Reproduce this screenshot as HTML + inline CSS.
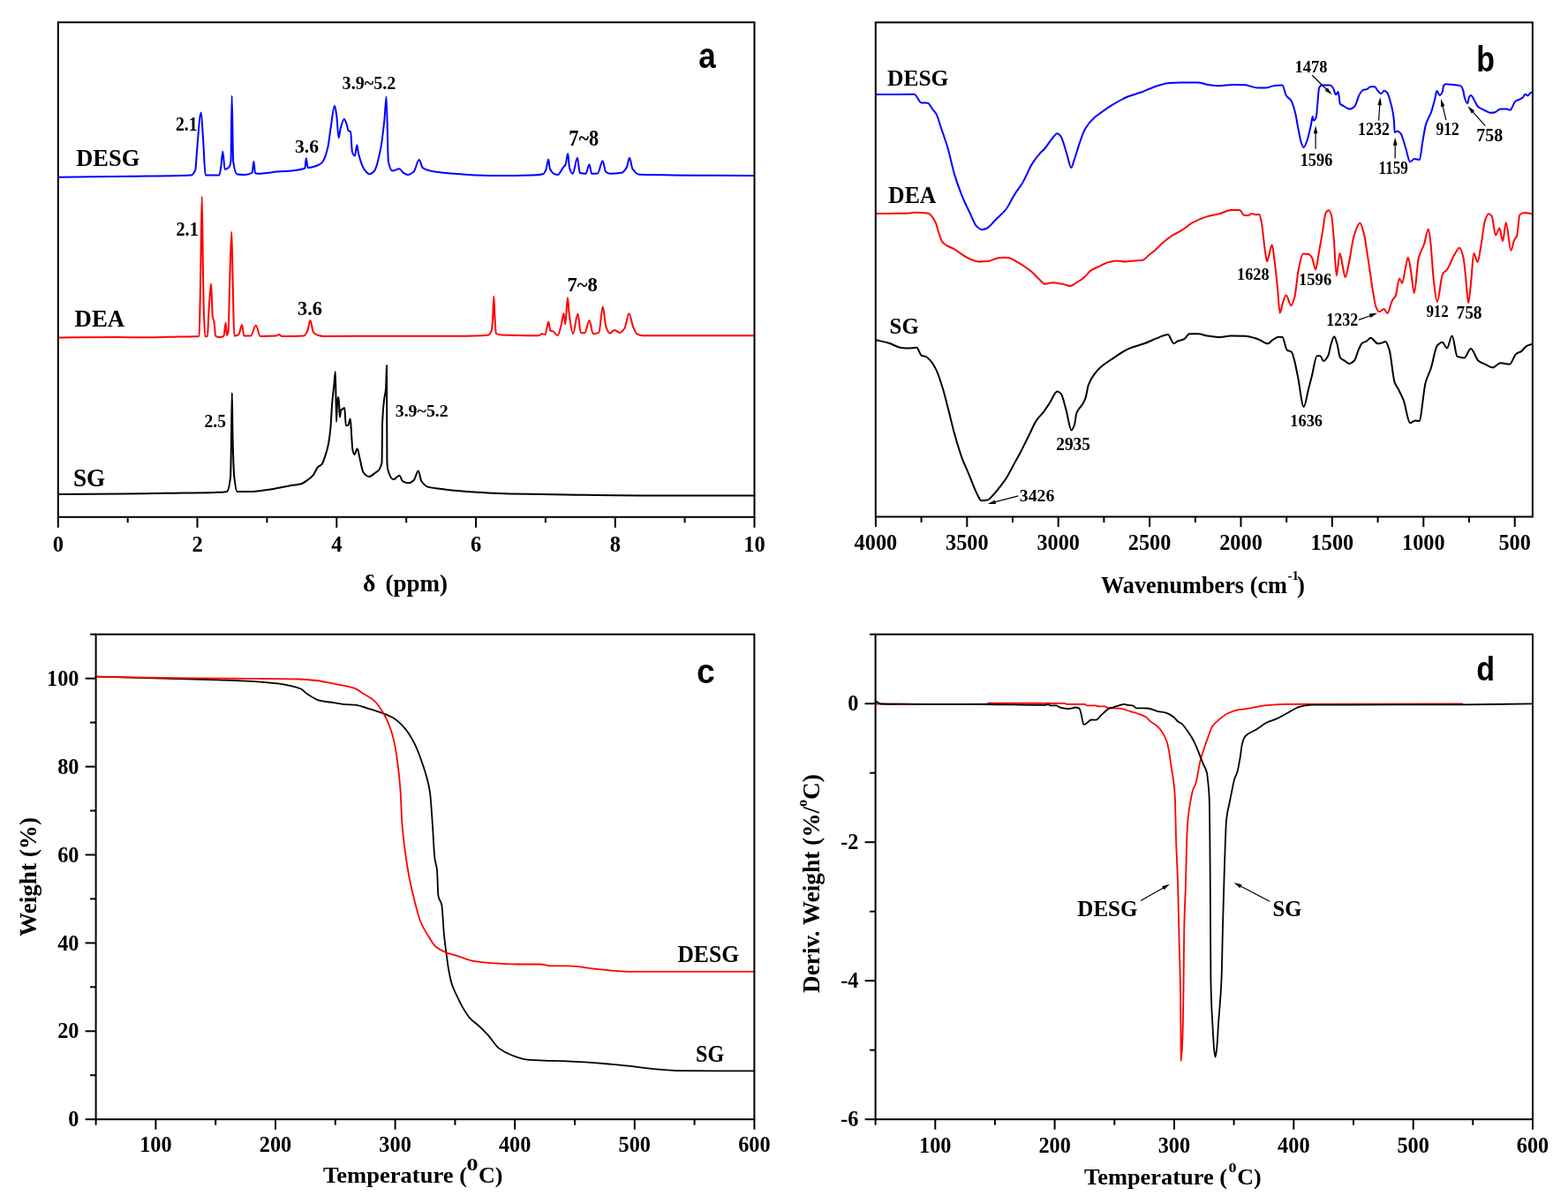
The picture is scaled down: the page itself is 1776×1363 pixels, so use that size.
<!DOCTYPE html>
<html><head><meta charset="utf-8"><style>html,body{margin:0;padding:0;background:#fff;}svg{display:block;}</style></head>
<body>
<svg width="1776" height="1363" viewBox="0 0 1776 1363">
<rect width="100%" height="100%" fill="#fff"/>
<path d="M66.00,560.10 C91.33,559.93 116.67,559.85 142.00,559.60 C157.77,559.45 173.53,559.06 189.30,558.80 C207.33,558.50 225.37,558.43 243.40,557.90 C247.90,557.77 252.40,557.73 256.90,557.10 C258.30,556.90 259.70,552.88 261.10,540.20 C261.40,537.48 261.70,514.49 262.00,498.00 C262.27,483.34 262.53,445.30 262.80,445.30 C263.07,445.30 263.33,487.83 263.60,498.00 C264.17,519.61 264.73,535.13 265.30,540.20 C266.43,550.34 267.57,557.10 268.70,557.10 C273.20,557.10 277.70,557.10 282.20,557.10 C291.77,557.10 301.33,555.11 310.90,553.70 C318.23,552.62 325.57,550.58 332.90,549.50 C335.27,549.15 337.63,549.08 340.00,548.60 C343.07,547.98 346.13,545.46 349.20,543.30 C350.97,542.05 352.73,540.74 354.50,538.70 C356.27,536.66 358.03,531.28 359.80,529.50 C361.33,527.96 362.87,527.93 364.40,526.20 C365.73,524.69 367.07,520.15 368.40,516.20 C369.50,512.94 370.60,509.71 371.70,504.40 C372.57,500.22 373.43,494.44 374.30,485.90 C374.97,479.33 375.63,463.17 376.30,455.50 C376.97,447.83 377.63,443.40 378.30,437.00 C378.83,431.88 379.37,421.10 379.90,421.10 C380.27,421.10 380.63,477.90 381.00,477.90 C381.50,477.90 382.00,450.20 382.50,450.20 C382.87,450.20 383.23,450.20 383.60,450.20 C384.03,450.20 384.47,472.70 384.90,472.70 C385.33,472.70 385.77,465.24 386.20,464.70 C386.87,463.87 387.53,463.83 388.20,463.40 C388.87,462.97 389.53,462.10 390.20,462.10 C390.73,462.10 391.27,481.90 391.80,481.90 C392.60,481.90 393.40,481.90 394.20,481.90 C395.07,481.90 395.93,474.60 396.80,474.60 C397.23,474.60 397.67,486.67 398.10,492.50 C398.53,498.33 398.97,507.59 399.40,509.60 C400.07,512.69 400.73,514.90 401.40,514.90 C402.50,514.90 403.60,508.30 404.70,508.30 C405.60,508.30 406.50,515.31 407.40,518.90 C408.70,524.08 410.00,532.85 411.30,534.70 C413.50,537.83 415.70,540.00 417.90,540.00 C420.10,540.00 422.30,537.94 424.50,536.10 C427.17,533.88 429.83,534.94 432.50,524.20 C432.70,523.39 432.90,484.45 433.10,479.30 C433.77,462.14 434.43,458.67 435.10,452.80 C435.77,446.93 436.43,447.36 437.10,439.60 C437.40,436.11 437.70,413.90 438.00,413.90 C438.13,413.90 438.27,518.09 438.40,521.50 C438.70,529.17 439.00,530.98 439.30,532.10 C441.43,540.09 443.57,543.30 445.70,543.30 C447.90,543.30 450.10,538.70 452.30,538.70 C453.60,538.70 454.90,544.60 456.20,545.30 C458.43,546.51 460.67,547.30 462.90,547.30 C464.87,547.30 466.83,545.77 468.80,544.00 C470.47,542.50 472.13,533.40 473.80,533.40 C475.00,533.40 476.20,543.57 477.40,545.30 C480.03,549.09 482.67,551.24 485.30,551.90 C490.20,553.14 495.10,553.26 500.00,553.90 C504.73,554.52 509.47,555.25 514.20,555.70 C525.00,556.72 535.80,557.40 546.60,558.00 C556.73,558.56 566.87,559.15 577.00,559.40 C598.63,559.93 620.27,560.13 641.90,560.40 C674.33,560.81 706.77,561.40 739.20,561.40 C777.63,561.40 816.07,561.40 854.50,561.40" fill="none" stroke="#000" stroke-width="2" stroke-linejoin="round" stroke-linecap="round"/>
<path d="M66.00,382.60 C87.40,382.40 108.80,382.00 130.20,382.00 C143.70,382.00 157.20,382.30 170.70,382.30 C180.83,382.30 190.97,381.73 201.10,381.50 C209.27,381.31 217.43,381.48 225.60,381.00 C225.90,380.98 226.20,361.82 226.50,348.50 C226.77,336.66 227.03,318.13 227.30,302.90 C227.77,276.24 228.23,222.70 228.70,222.70 C229.10,222.70 229.50,278.42 229.90,302.90 C230.17,319.22 230.43,340.29 230.70,348.50 C231.27,365.94 231.83,381.50 232.40,381.50 C233.23,381.50 234.07,381.21 234.90,380.60 C235.57,380.11 236.23,354.05 236.90,345.10 C237.63,335.25 238.37,321.50 239.10,321.50 C239.67,321.50 240.23,355.16 240.80,358.60 C241.37,362.04 241.93,361.69 242.50,364.60 C243.07,367.51 243.63,380.18 244.20,380.60 C245.60,381.64 247.00,382.00 248.40,382.00 C250.10,382.00 251.80,381.62 253.50,380.60 C254.23,380.16 254.97,365.40 255.70,365.40 C256.10,365.40 256.50,379.80 256.90,379.80 C257.47,379.80 258.03,378.18 258.60,375.50 C259.17,372.82 259.73,331.89 260.30,314.70 C260.97,294.47 261.63,262.40 262.30,262.40 C262.73,262.40 263.17,297.58 263.60,314.70 C264.17,337.09 264.73,380.60 265.30,380.60 C267.00,380.60 268.70,379.96 270.40,378.90 C271.63,378.13 272.87,367.90 274.10,367.90 C274.83,367.90 275.57,380.60 276.30,380.60 C278.83,380.60 281.37,380.60 283.90,380.60 C285.87,380.60 287.83,368.80 289.80,368.80 C291.50,368.80 293.20,381.00 294.90,381.00 C300.80,381.00 306.70,380.92 312.60,380.60 C313.73,380.54 314.87,378.90 316.00,378.90 C317.13,378.90 318.27,381.00 319.40,381.00 C327.57,381.00 335.73,380.94 343.90,380.60 C345.30,380.54 346.70,378.11 348.10,375.50 C349.23,373.39 350.37,362.90 351.50,362.90 C352.63,362.90 353.77,375.02 354.90,376.40 C356.57,378.43 358.23,379.28 359.90,379.80 C361.93,380.43 363.97,381.00 366.00,381.00 C389.90,381.00 413.80,380.70 437.70,380.70 C464.73,380.70 491.77,380.70 518.80,380.70 C530.07,380.70 541.33,380.57 552.60,379.70 C554.00,379.59 555.40,377.91 556.80,374.30 C557.20,373.27 557.60,369.03 558.00,364.20 C558.43,358.97 558.87,335.80 559.30,335.80 C559.77,335.80 560.23,357.40 560.70,364.20 C561.10,370.03 561.50,377.76 561.90,378.00 C563.87,379.16 565.83,379.31 567.80,379.40 C581.93,380.03 596.07,380.20 610.20,380.20 C611.43,380.20 612.67,378.30 613.90,378.30 C615.13,378.30 616.37,379.00 617.60,379.00 C618.80,379.00 620.00,364.40 621.20,364.40 C621.93,364.40 622.67,374.36 623.40,374.70 C624.40,375.17 625.40,375.04 626.40,375.40 C628.10,376.00 629.80,380.20 631.50,380.20 C632.97,380.20 634.43,372.84 635.90,367.30 C636.73,364.15 637.57,354.90 638.40,354.90 C639.03,354.90 639.67,367.30 640.30,367.30 C641.17,367.30 642.03,337.30 642.90,337.30 C643.50,337.30 644.10,351.24 644.70,355.60 C646.13,366.01 647.57,378.30 649.00,378.30 C650.83,378.30 652.67,355.60 654.50,355.60 C655.60,355.60 656.70,376.69 657.80,376.90 C659.27,377.18 660.73,377.30 662.20,377.30 C664.00,377.30 665.80,363.00 667.60,363.00 C668.97,363.00 670.33,378.30 671.70,378.30 C673.90,378.30 676.10,377.86 678.30,376.90 C679.77,376.26 681.23,347.60 682.70,347.60 C683.93,347.60 685.17,367.02 686.40,370.30 C687.87,374.20 689.33,377.60 690.80,377.60 C692.50,377.60 694.20,373.90 695.90,373.90 C697.87,373.90 699.83,376.90 701.80,376.90 C703.73,376.90 705.67,374.50 707.60,371.70 C709.20,369.38 710.80,355.30 712.40,355.30 C713.97,355.30 715.53,366.68 717.10,370.30 C718.57,373.69 720.03,377.47 721.50,378.30 C723.47,379.41 725.43,380.20 727.40,380.20 C769.77,380.20 812.13,380.20 854.50,380.20" fill="none" stroke="#ff0000" stroke-width="2" stroke-linejoin="round" stroke-linecap="round"/>
<path d="M66.00,200.70 C93.77,200.40 121.53,200.18 149.30,199.80 C171.47,199.50 193.63,199.68 215.80,198.60 C217.67,198.51 219.53,196.94 221.40,192.30 C221.87,191.14 222.33,179.56 222.80,174.30 C224.43,155.90 226.07,127.50 227.70,127.50 C228.47,127.50 229.23,145.68 230.00,156.30 C230.90,168.76 231.80,198.40 232.70,198.40 C237.93,198.40 243.17,198.40 248.40,198.40 C249.00,198.40 249.60,193.63 250.20,190.00 C250.90,185.77 251.60,171.60 252.30,171.60 C253.10,171.60 253.90,191.90 254.70,191.90 C256.37,191.90 258.03,190.89 259.70,189.00 C260.30,188.32 260.90,186.82 261.50,182.20 C261.87,179.37 262.23,108.60 262.60,108.60 C263.13,108.60 263.67,179.64 264.20,183.30 C265.70,193.59 267.20,197.32 268.70,197.50 C271.70,197.87 274.70,198.00 277.70,198.00 C280.33,198.00 282.97,197.53 285.60,195.70 C286.20,195.28 286.80,182.90 287.40,182.90 C287.93,182.90 288.47,195.17 289.00,195.70 C289.73,196.42 290.47,196.80 291.20,196.80 C298.70,196.80 306.20,195.40 313.70,194.60 C324.23,193.47 334.77,194.33 345.30,190.80 C345.80,190.63 346.30,179.30 346.80,179.30 C347.40,179.30 348.00,190.10 348.60,190.10 C352.00,190.10 355.40,188.99 358.80,187.80 C361.03,187.02 363.27,185.75 365.50,183.30 C367.40,181.21 369.30,175.27 371.20,167.60 C372.33,163.03 373.47,152.00 374.60,145.00 C376.07,135.95 377.53,119.80 379.00,119.80 C379.77,119.80 380.53,126.20 381.30,131.50 C382.07,136.80 382.83,156.30 383.60,156.30 C384.33,156.30 385.07,147.53 385.80,145.00 C387.17,140.28 388.53,134.90 389.90,134.90 C390.80,134.90 391.70,138.11 392.60,140.50 C393.33,142.45 394.07,147.99 394.80,148.40 C395.57,148.83 396.33,148.63 397.10,149.10 C397.70,149.47 398.30,170.29 398.90,172.00 C399.93,174.95 400.97,176.60 402.00,176.60 C402.77,176.60 403.53,164.20 404.30,164.20 C404.90,164.20 405.50,171.96 406.10,174.30 C408.33,183.00 410.57,189.39 412.80,192.30 C414.70,194.78 416.60,197.30 418.50,197.30 C420.37,197.30 422.23,195.58 424.10,193.50 C426.37,190.98 428.63,180.87 430.90,169.80 C432.40,162.48 433.90,150.26 435.40,136.00 C436.13,129.03 436.87,109.50 437.60,109.50 C438.37,109.50 439.13,179.72 439.90,183.30 C441.40,190.31 442.90,193.50 444.40,193.50 C447.03,193.50 449.67,191.20 452.30,191.20 C453.80,191.20 455.30,194.76 456.80,195.70 C458.50,196.77 460.20,198.00 461.90,198.00 C464.13,198.00 466.37,196.46 468.60,194.60 C470.63,192.90 472.67,181.10 474.70,181.10 C476.07,181.10 477.43,189.19 478.80,190.10 C483.30,193.10 487.80,193.90 492.30,194.60 C502.07,196.12 511.83,196.70 521.60,197.30 C535.10,198.12 548.60,199.10 562.10,199.10 C575.60,199.10 589.10,198.95 602.60,198.60 C606.73,198.49 610.87,198.27 615.00,197.30 C616.13,197.03 617.27,194.84 618.40,192.30 C619.30,190.29 620.20,180.60 621.10,180.60 C621.70,180.60 622.30,189.84 622.90,191.20 C624.40,194.60 625.90,196.14 627.40,196.80 C628.90,197.46 630.40,198.00 631.90,198.00 C633.80,198.00 635.70,192.49 637.60,190.10 C638.57,188.88 639.53,188.53 640.50,186.70 C641.40,185.00 642.30,173.90 643.20,173.90 C643.80,173.90 644.40,188.18 645.00,190.10 C646.27,194.16 647.53,196.80 648.80,196.80 C650.53,196.80 652.27,178.80 654.00,178.80 C654.90,178.80 655.80,195.37 656.70,195.70 C658.97,196.53 661.23,196.80 663.50,196.80 C664.83,196.80 666.17,186.30 667.50,186.30 C668.40,186.30 669.30,196.80 670.20,196.80 C672.47,196.80 674.73,196.67 677.00,196.40 C678.87,196.18 680.73,182.20 682.60,182.20 C683.73,182.20 684.87,193.59 686.00,194.60 C687.50,195.94 689.00,196.80 690.50,196.80 C695.00,196.80 699.50,196.47 704.00,195.70 C705.87,195.38 707.73,193.10 709.60,190.10 C710.73,188.28 711.87,178.80 713.00,178.80 C714.13,178.80 715.27,189.52 716.40,191.20 C719.03,195.11 721.67,197.73 724.30,197.80 C767.53,198.91 810.77,198.60 854.00,199.00" fill="none" stroke="#0000ff" stroke-width="2" stroke-linejoin="round" stroke-linecap="round"/>
<path d="M992.50,385.30 C997.30,386.43 1002.10,387.27 1006.90,388.70 C1011.10,389.95 1015.30,393.07 1019.50,393.70 C1022.60,394.17 1025.70,394.60 1028.80,394.60 C1031.90,394.60 1035.00,393.70 1038.10,393.70 C1040.07,393.70 1042.03,402.29 1044.00,403.00 C1045.40,403.51 1046.80,403.44 1048.20,403.90 C1050.43,404.64 1052.67,407.18 1054.90,409.80 C1056.87,412.10 1058.83,415.72 1060.80,419.90 C1063.07,424.72 1065.33,431.93 1067.60,439.30 C1069.83,446.56 1072.07,455.96 1074.30,464.60 C1076.57,473.37 1078.83,483.52 1081.10,491.60 C1083.90,501.58 1086.70,510.95 1089.50,518.60 C1092.33,526.34 1095.17,532.01 1098.00,538.80 C1100.80,545.51 1103.60,553.82 1106.40,559.10 C1108.10,562.30 1109.80,567.20 1111.50,567.20 C1113.73,567.20 1115.97,566.96 1118.20,566.60 C1120.47,566.23 1122.73,562.97 1125.00,560.70 C1127.80,557.89 1130.60,554.22 1133.40,550.60 C1135.63,547.71 1137.87,544.84 1140.10,541.30 C1142.37,537.70 1144.63,532.85 1146.90,528.70 C1149.70,523.57 1152.50,518.81 1155.30,513.50 C1158.67,507.11 1162.03,500.01 1165.40,493.30 C1168.23,487.65 1171.07,480.64 1173.90,476.40 C1176.70,472.21 1179.50,470.03 1182.30,466.30 C1184.57,463.28 1186.83,459.60 1189.10,456.20 C1191.90,452.01 1194.70,443.50 1197.50,443.50 C1198.90,443.50 1200.30,444.65 1201.70,446.00 C1203.67,447.90 1205.63,457.77 1207.60,464.60 C1209.57,471.43 1211.53,487.40 1213.50,487.40 C1214.63,487.40 1215.77,484.56 1216.90,481.50 C1217.73,479.25 1218.57,470.14 1219.40,468.00 C1221.67,462.17 1223.93,461.78 1226.20,457.80 C1227.30,455.87 1228.40,454.17 1229.50,451.10 C1230.63,447.94 1231.77,438.93 1232.90,435.90 C1235.27,429.57 1237.63,426.55 1240.00,423.30 C1242.03,420.51 1244.07,418.24 1246.10,416.40 C1250.50,412.42 1254.90,409.85 1259.30,406.90 C1265.63,402.66 1271.97,397.82 1278.30,395.10 C1284.17,392.58 1290.03,391.49 1295.90,389.30 C1300.77,387.49 1305.63,384.90 1310.50,383.10 C1314.67,381.56 1318.83,379.00 1323.00,379.00 C1324.20,379.00 1325.40,382.94 1326.60,384.90 C1327.50,386.37 1328.40,389.30 1329.30,389.30 C1330.87,389.30 1332.43,387.05 1334.00,386.40 C1336.43,385.39 1338.87,385.36 1341.30,384.20 C1343.23,383.28 1345.17,378.30 1347.10,378.30 C1350.53,378.30 1353.97,378.30 1357.40,378.30 C1360.80,378.30 1364.20,380.02 1367.60,380.50 C1372.50,381.19 1377.40,382.00 1382.30,382.00 C1386.20,382.00 1390.10,380.50 1394.00,380.50 C1399.37,380.50 1404.73,380.61 1410.10,380.80 C1414.97,380.97 1419.83,382.71 1424.70,384.20 C1428.60,385.40 1432.50,389.30 1436.40,389.30 C1437.87,389.30 1439.33,386.57 1440.80,385.60 C1443.27,383.97 1445.73,381.70 1448.20,381.70 C1449.63,381.70 1451.07,381.81 1452.50,382.00 C1454.23,382.23 1455.97,395.31 1457.70,396.60 C1459.40,397.87 1461.10,397.44 1462.80,398.80 C1463.77,399.57 1464.73,403.59 1465.70,406.90 C1467.17,411.93 1468.63,420.19 1470.10,427.30 C1472.30,437.96 1474.50,461.00 1476.70,461.00 C1478.40,461.00 1480.10,448.51 1481.80,442.00 C1483.17,436.77 1484.53,431.26 1485.90,425.90 C1487.83,418.32 1489.77,403.20 1491.70,403.20 C1492.93,403.20 1494.17,403.20 1495.40,403.20 C1496.60,403.20 1497.80,409.00 1499.00,409.00 C1500.73,409.00 1502.47,406.30 1504.20,403.20 C1505.40,401.05 1506.60,392.83 1507.80,389.30 C1508.93,385.97 1510.07,381.20 1511.20,381.20 C1512.27,381.20 1513.33,385.91 1514.40,389.30 C1515.63,393.22 1516.87,403.96 1518.10,405.40 C1519.57,407.12 1521.03,407.35 1522.50,408.30 C1524.43,409.55 1526.37,412.00 1528.30,412.00 C1530.27,412.00 1532.23,410.36 1534.20,408.30 C1535.67,406.77 1537.13,399.77 1538.60,396.60 C1540.07,393.43 1541.53,389.64 1543.00,388.60 C1544.70,387.40 1546.40,387.38 1548.10,386.40 C1549.57,385.56 1551.03,382.70 1552.50,382.70 C1555.17,382.70 1557.83,389.30 1560.50,389.30 C1561.97,389.30 1563.43,388.92 1564.90,388.60 C1566.37,388.28 1567.83,387.10 1569.30,387.10 C1570.77,387.10 1572.23,392.01 1573.70,396.60 C1575.67,402.76 1577.63,427.76 1579.60,433.20 C1581.07,437.26 1582.53,438.41 1584.00,441.30 C1585.93,445.11 1587.87,448.61 1589.80,453.70 C1592.23,460.10 1594.67,479.30 1597.10,479.30 C1599.07,479.30 1601.03,476.40 1603.00,476.40 C1604.47,476.40 1605.93,477.10 1607.40,477.10 C1609.83,477.10 1612.27,441.94 1614.70,433.20 C1616.67,426.14 1618.63,423.72 1620.60,417.80 C1623.03,410.48 1625.47,394.07 1627.90,391.50 C1629.83,389.46 1631.77,387.80 1633.70,387.80 C1635.43,387.80 1637.17,394.40 1638.90,394.40 C1640.83,394.40 1642.77,380.50 1644.70,380.50 C1646.67,380.50 1648.63,403.16 1650.60,403.90 C1653.27,404.90 1655.93,405.40 1658.60,405.40 C1661.03,405.40 1663.47,395.10 1665.90,395.10 C1668.83,395.10 1671.77,406.78 1674.70,409.00 C1677.13,410.84 1679.57,411.58 1682.00,412.70 C1684.93,414.05 1687.87,416.40 1690.80,416.40 C1693.73,416.40 1696.67,411.20 1699.60,411.20 C1703.03,411.20 1706.47,412.70 1709.90,412.70 C1712.33,412.70 1714.77,402.82 1717.20,401.00 C1719.13,399.56 1721.07,399.39 1723.00,398.10 C1724.97,396.79 1726.93,393.27 1728.90,392.20 C1730.87,391.13 1732.83,390.73 1734.80,390.00" fill="none" stroke="#000" stroke-width="2" stroke-linejoin="round" stroke-linecap="round"/>
<path d="M992.90,242.10 C1005.63,241.87 1018.37,241.93 1031.10,241.40 C1032.57,241.34 1034.03,240.70 1035.50,240.70 C1040.87,240.70 1046.23,240.98 1051.60,241.80 C1053.07,242.02 1054.53,244.03 1056.00,245.80 C1057.33,247.41 1058.67,249.77 1060.00,252.90 C1060.97,255.17 1061.93,259.63 1062.90,262.50 C1064.37,266.86 1065.83,272.36 1067.30,274.20 C1068.77,276.04 1070.23,276.86 1071.70,277.80 C1074.63,279.67 1077.57,280.52 1080.50,282.20 C1083.43,283.88 1086.37,286.28 1089.30,288.10 C1092.23,289.92 1095.17,292.00 1098.10,293.20 C1101.50,294.59 1104.90,296.40 1108.30,296.40 C1111.73,296.40 1115.17,296.29 1118.60,296.10 C1121.50,295.94 1124.40,293.85 1127.30,293.20 C1130.23,292.54 1133.17,291.70 1136.10,291.70 C1138.07,291.70 1140.03,291.83 1142.00,292.00 C1144.93,292.26 1147.87,294.57 1150.80,296.10 C1153.73,297.63 1156.67,299.36 1159.60,301.30 C1162.50,303.21 1165.40,305.32 1168.30,307.80 C1171.23,310.31 1174.17,314.03 1177.10,316.60 C1179.30,318.53 1181.50,321.80 1183.70,321.80 C1186.40,321.80 1189.10,320.30 1191.80,320.30 C1195.70,320.30 1199.60,321.13 1203.50,321.80 C1206.43,322.30 1209.37,324.00 1212.30,324.00 C1214.23,324.00 1216.17,322.11 1218.10,321.00 C1221.03,319.31 1223.97,317.53 1226.90,315.20 C1229.83,312.87 1232.77,308.36 1235.70,306.40 C1238.63,304.44 1241.57,303.37 1244.50,302.00 C1248.40,300.18 1252.30,297.84 1256.20,296.90 C1259.13,296.20 1262.07,295.40 1265.00,295.40 C1268.40,295.40 1271.80,296.40 1275.20,296.40 C1278.13,296.40 1281.07,295.65 1284.00,295.40 C1287.43,295.11 1290.87,295.15 1294.30,294.70 C1296.73,294.38 1299.17,290.75 1301.60,288.80 C1304.03,286.85 1306.47,285.15 1308.90,283.00 C1311.33,280.85 1313.77,277.84 1316.20,275.70 C1319.90,272.44 1323.60,269.49 1327.30,267.10 C1331.03,264.69 1334.77,263.21 1338.50,260.90 C1342.63,258.35 1346.77,254.40 1350.90,252.20 C1356.27,249.34 1361.63,246.99 1367.00,245.40 C1371.93,243.94 1376.87,243.33 1381.80,242.00 C1385.93,240.89 1390.07,238.00 1394.20,238.00 C1397.50,238.00 1400.80,238.00 1404.10,238.00 C1405.77,238.00 1407.43,243.55 1409.10,243.80 C1410.73,244.05 1412.37,244.20 1414.00,244.20 C1415.27,244.20 1416.53,242.00 1417.80,242.00 C1419.43,242.00 1421.07,243.30 1422.70,243.30 C1423.93,243.30 1425.17,242.90 1426.40,242.90 C1427.23,242.90 1428.07,248.06 1428.90,252.20 C1430.13,258.33 1431.37,273.75 1432.60,281.90 C1433.43,287.41 1434.27,296.20 1435.10,296.20 C1435.93,296.20 1436.77,290.86 1437.60,288.10 C1438.63,284.68 1439.67,277.60 1440.70,277.60 C1441.73,277.60 1442.77,289.15 1443.80,296.80 C1444.83,304.45 1445.87,315.21 1446.90,325.30 C1447.83,334.42 1448.77,354.40 1449.70,354.40 C1450.83,354.40 1451.97,345.63 1453.10,342.60 C1454.33,339.30 1455.57,334.60 1456.80,334.60 C1458.67,334.60 1460.53,346.30 1462.40,346.30 C1463.63,346.30 1464.87,341.88 1466.10,337.70 C1467.73,332.16 1469.37,311.54 1471.00,304.20 C1472.67,296.71 1474.33,287.50 1476.00,287.50 C1478.07,287.50 1480.13,287.71 1482.20,288.10 C1483.43,288.33 1484.67,289.95 1485.90,291.80 C1487.33,293.95 1488.77,305.50 1490.20,305.50 C1491.23,305.50 1492.27,295.00 1493.30,289.40 C1494.97,280.37 1496.63,270.83 1498.30,260.90 C1499.33,254.75 1500.37,243.39 1501.40,241.70 C1502.63,239.68 1503.87,238.30 1505.10,238.30 C1506.13,238.30 1507.17,241.14 1508.20,244.80 C1509.03,247.75 1509.87,259.96 1510.70,269.50 C1511.73,281.33 1512.77,312.30 1513.80,312.30 C1515.03,312.30 1516.27,286.90 1517.50,286.90 C1518.53,286.90 1519.57,295.97 1520.60,300.50 C1521.63,305.03 1522.67,314.10 1523.70,314.10 C1524.93,314.10 1526.17,305.81 1527.40,300.50 C1529.47,291.61 1531.53,273.39 1533.60,267.10 C1535.87,260.20 1538.13,252.80 1540.40,252.80 C1541.87,252.80 1543.33,259.18 1544.80,264.60 C1546.43,270.63 1548.07,283.91 1549.70,294.30 C1551.37,304.91 1553.03,317.94 1554.70,327.80 C1555.93,335.10 1557.17,344.69 1558.40,347.60 C1559.63,350.51 1560.87,353.20 1562.10,353.20 C1563.97,353.20 1565.83,350.10 1567.70,350.10 C1568.93,350.10 1570.17,355.00 1571.40,355.00 C1573.27,355.00 1575.13,343.47 1577.00,340.20 C1578.23,338.04 1579.47,337.74 1580.70,335.20 C1582.13,332.25 1583.57,315.40 1585.00,315.40 C1586.03,315.40 1587.07,321.00 1588.10,321.00 C1589.33,321.00 1590.57,309.44 1591.80,304.20 C1592.83,299.81 1593.87,291.80 1594.90,291.80 C1595.93,291.80 1596.97,300.95 1598.00,306.70 C1599.27,313.74 1600.53,332.10 1601.80,332.10 C1603.43,332.10 1605.07,299.82 1606.70,293.10 C1607.53,289.67 1608.37,287.90 1609.20,285.70 C1610.43,282.44 1611.67,280.44 1612.90,277.00 C1614.57,272.35 1616.23,259.40 1617.90,259.40 C1618.70,259.40 1619.50,268.03 1620.30,274.50 C1621.53,284.47 1622.77,309.17 1624.00,319.10 C1625.27,329.29 1626.53,342.00 1627.80,342.00 C1629.87,342.00 1631.93,313.77 1634.00,310.40 C1635.63,307.74 1637.27,307.61 1638.90,305.50 C1641.80,301.75 1644.70,292.65 1647.60,288.10 C1649.47,285.17 1651.33,280.70 1653.20,280.70 C1654.63,280.70 1656.07,285.90 1657.50,291.80 C1658.53,296.05 1659.57,309.55 1660.60,319.10 C1661.43,326.80 1662.27,343.30 1663.10,343.30 C1664.13,343.30 1665.17,328.31 1666.20,319.10 C1667.23,309.89 1668.27,286.90 1669.30,286.90 C1670.73,286.90 1672.17,296.80 1673.60,296.80 C1674.83,296.80 1676.07,286.17 1677.30,279.50 C1678.77,271.57 1680.23,255.51 1681.70,251.00 C1683.13,246.59 1684.57,242.30 1686.00,242.30 C1687.23,242.30 1688.47,243.36 1689.70,244.80 C1691.13,246.48 1692.57,266.50 1694.00,266.50 C1695.47,266.50 1696.93,258.40 1698.40,258.40 C1699.63,258.40 1700.87,273.30 1702.10,273.30 C1703.33,273.30 1704.57,252.20 1705.80,252.20 C1707.67,252.20 1709.53,283.80 1711.40,283.80 C1712.63,283.80 1713.87,274.58 1715.10,272.00 C1716.13,269.84 1717.17,269.81 1718.20,267.10 C1719.23,264.39 1720.27,244.42 1721.30,243.50 C1723.17,241.84 1725.03,241.10 1726.90,241.10 C1729.57,241.10 1732.23,241.90 1734.90,242.30" fill="none" stroke="#ff0000" stroke-width="2" stroke-linejoin="round" stroke-linecap="round"/>
<path d="M992.90,107.10 C1007.10,107.00 1021.30,106.80 1035.50,106.80 C1038.17,106.80 1040.83,116.19 1043.50,116.40 C1045.97,116.59 1048.43,116.49 1050.90,116.70 C1052.60,116.84 1054.30,121.08 1056.00,123.30 C1057.47,125.22 1058.93,126.50 1060.40,129.10 C1062.37,132.59 1064.33,140.23 1066.30,146.00 C1068.73,153.14 1071.17,159.66 1073.60,168.00 C1076.07,176.45 1078.53,189.21 1081.00,197.40 C1083.93,207.14 1086.87,215.09 1089.80,222.30 C1092.73,229.51 1095.67,235.28 1098.60,241.40 C1101.03,246.48 1103.47,253.63 1105.90,256.10 C1107.87,258.10 1109.83,260.20 1111.80,260.20 C1113.73,260.20 1115.67,259.45 1117.60,258.70 C1121.03,257.37 1124.47,252.08 1127.90,248.70 C1131.80,244.86 1135.70,242.03 1139.60,237.00 C1142.53,233.22 1145.47,226.34 1148.40,221.60 C1151.83,216.05 1155.27,212.07 1158.70,206.20 C1162.13,200.33 1165.57,191.06 1169.00,185.60 C1171.93,180.94 1174.87,177.22 1177.80,173.90 C1179.77,171.68 1181.73,170.28 1183.70,168.00 C1186.13,165.18 1188.57,160.63 1191.00,157.80 C1193.20,155.24 1195.40,151.20 1197.60,151.20 C1198.83,151.20 1200.07,152.67 1201.30,154.10 C1203.73,156.93 1206.17,168.06 1208.60,175.40 C1210.17,180.13 1211.73,190.00 1213.30,190.00 C1214.43,190.00 1215.57,184.37 1216.70,181.20 C1218.90,175.05 1221.10,166.83 1223.30,160.70 C1225.23,155.32 1227.17,149.29 1229.10,146.00 C1232.73,139.82 1236.37,136.07 1240.00,132.80 C1241.37,131.57 1242.73,130.70 1244.10,129.70 C1248.80,126.25 1253.50,122.67 1258.20,119.80 C1264.77,115.79 1271.33,111.90 1277.90,109.30 C1282.57,107.45 1287.23,106.46 1291.90,104.80 C1297.53,102.79 1303.17,99.81 1308.80,98.00 C1313.50,96.49 1318.20,94.59 1322.90,94.20 C1327.60,93.81 1332.30,93.50 1337.00,93.50 C1343.57,93.50 1350.13,93.50 1356.70,93.50 C1360.47,93.50 1364.23,95.38 1368.00,95.90 C1372.67,96.54 1377.33,97.30 1382.00,97.30 C1386.70,97.30 1391.40,95.90 1396.10,95.90 C1400.80,95.90 1405.50,96.06 1410.20,96.30 C1414.90,96.54 1419.60,99.40 1424.30,99.40 C1427.57,99.40 1430.83,99.40 1434.10,99.40 C1437.40,99.40 1440.70,97.10 1444.00,96.90 C1446.80,96.73 1449.60,96.60 1452.40,96.60 C1453.90,96.60 1455.40,106.16 1456.90,108.40 C1458.77,111.18 1460.63,111.21 1462.50,114.10 C1464.00,116.42 1465.50,121.78 1467.00,127.60 C1468.13,132.00 1469.27,139.99 1470.40,145.60 C1471.53,151.21 1472.67,158.27 1473.80,161.40 C1474.73,163.98 1475.67,167.00 1476.60,167.00 C1477.90,167.00 1479.20,162.57 1480.50,159.10 C1482.00,155.10 1483.50,148.08 1485.00,141.10 C1485.57,138.46 1486.13,132.10 1486.70,132.10 C1487.10,132.10 1487.50,136.60 1487.90,136.60 C1488.83,136.60 1489.77,135.36 1490.70,133.20 C1491.27,131.89 1491.83,121.93 1492.40,116.30 C1492.97,110.67 1493.53,100.37 1494.10,99.40 C1495.20,97.51 1496.30,96.60 1497.40,96.60 C1500.40,96.60 1503.40,96.60 1506.40,96.60 C1507.53,96.60 1508.67,98.02 1509.80,99.40 C1510.93,100.78 1512.07,107.30 1513.20,107.30 C1513.97,107.30 1514.73,103.90 1515.50,103.90 C1515.87,103.90 1516.23,106.40 1516.60,108.40 C1516.97,110.40 1517.33,116.86 1517.70,117.40 C1518.83,119.06 1519.97,119.04 1521.10,119.70 C1523.73,121.23 1526.37,123.60 1529.00,123.60 C1530.87,123.60 1532.73,122.08 1534.60,120.20 C1536.10,118.69 1537.60,111.11 1539.10,108.40 C1540.60,105.69 1542.10,102.82 1543.60,102.20 C1545.10,101.58 1546.60,101.63 1548.10,101.10 C1549.60,100.57 1551.10,98.30 1552.60,98.30 C1554.10,98.30 1555.60,98.30 1557.10,98.30 C1558.23,98.30 1559.37,101.60 1560.50,102.80 C1561.80,104.17 1563.10,106.20 1564.40,106.20 C1565.53,106.20 1566.67,102.80 1567.80,102.80 C1568.93,102.80 1570.07,103.82 1571.20,105.00 C1572.50,106.36 1573.80,111.33 1575.10,116.30 C1576.43,121.39 1577.77,124.57 1579.10,138.80 C1579.27,140.58 1579.43,150.10 1579.60,150.10 C1580.73,150.10 1581.87,148.40 1583.00,148.40 C1584.13,148.40 1585.27,149.82 1586.40,151.20 C1588.27,153.48 1590.13,161.40 1592.00,167.00 C1593.70,172.10 1595.40,183.30 1597.10,183.30 C1598.80,183.30 1600.50,179.90 1602.20,179.90 C1604.07,179.90 1605.93,181.10 1607.80,181.10 C1608.93,181.10 1610.07,167.52 1611.20,161.20 C1612.47,154.14 1613.73,145.21 1615.00,141.00 C1617.03,134.24 1619.07,132.69 1621.10,126.90 C1622.57,122.73 1624.03,117.01 1625.50,111.10 C1626.10,108.68 1626.70,103.10 1627.30,103.10 C1628.47,103.10 1629.63,108.00 1630.80,108.00 C1631.70,108.00 1632.60,106.64 1633.50,104.90 C1634.07,103.81 1634.63,97.70 1635.20,97.00 C1636.10,95.89 1637.00,95.20 1637.90,95.20 C1640.53,95.20 1643.17,95.76 1645.80,96.10 C1648.73,96.48 1651.67,96.45 1654.60,97.40 C1655.47,97.68 1656.33,99.88 1657.20,102.30 C1657.80,103.98 1658.40,109.35 1659.00,111.10 C1660.03,114.11 1661.07,117.20 1662.10,117.20 C1662.83,117.20 1663.57,110.20 1664.30,109.30 C1664.87,108.60 1665.43,108.00 1666.00,108.00 C1667.17,108.00 1668.33,110.99 1669.50,112.80 C1670.97,115.07 1672.43,119.39 1673.90,120.70 C1675.67,122.28 1677.43,122.93 1679.20,123.80 C1682.43,125.39 1685.67,127.80 1688.90,127.80 C1690.37,127.80 1691.83,127.57 1693.30,127.30 C1695.37,126.92 1697.43,123.40 1699.50,123.40 C1701.83,123.40 1704.17,123.40 1706.50,123.40 C1707.83,123.40 1709.17,124.70 1710.50,124.70 C1711.23,124.70 1711.97,122.77 1712.70,121.60 C1713.87,119.74 1715.03,115.95 1716.20,115.00 C1717.97,113.57 1719.73,113.38 1721.50,112.40 C1722.67,111.75 1723.83,111.22 1725.00,110.20 C1725.87,109.44 1726.73,106.70 1727.60,106.70 C1728.50,106.70 1729.40,108.40 1730.30,108.40 C1731.47,108.40 1732.63,105.41 1733.80,104.90 C1734.23,104.71 1734.67,104.63 1735.10,104.50" fill="none" stroke="#0000ff" stroke-width="2" stroke-linejoin="round" stroke-linecap="round"/>
<path d="M108.60,766.70 C154.77,767.93 200.93,768.85 247.10,770.40 C257.80,770.76 268.50,771.14 279.20,771.70 C286.33,772.07 293.47,772.61 300.60,773.20 C306.30,773.67 312.00,774.14 317.70,774.90 C321.97,775.47 326.23,776.37 330.50,777.40 C334.07,778.26 337.63,779.03 341.20,780.70 C343.33,781.70 345.47,784.58 347.60,786.00 C352.60,789.32 357.60,792.75 362.60,793.90 C367.60,795.05 372.60,795.38 377.60,796.10 C382.60,796.82 387.60,797.81 392.60,798.20 C396.13,798.48 399.67,798.48 403.20,798.80 C408.20,799.26 413.20,801.57 418.20,803.10 C423.20,804.63 428.20,806.09 433.20,808.00 C437.47,809.63 441.73,811.22 446.00,813.80 C450.30,816.40 454.60,820.55 458.90,825.60 C462.47,829.79 466.03,835.67 469.60,842.70 C472.43,848.29 475.27,855.97 478.10,864.10 C480.27,870.32 482.43,876.46 484.60,885.50 C485.43,888.98 486.27,892.38 487.10,898.50 C488.00,905.11 488.90,920.33 489.80,932.80 C490.67,944.81 491.53,965.80 492.40,972.40 C493.27,979.00 494.13,978.07 495.00,985.60 C495.47,989.65 495.93,1012.17 496.40,1014.70 C497.70,1021.75 499.00,1019.19 500.30,1025.20 C501.20,1029.36 502.10,1050.57 503.00,1059.50 C503.87,1068.10 504.73,1074.13 505.60,1080.70 C506.47,1087.27 507.33,1094.38 508.20,1099.10 C509.53,1106.36 510.87,1112.31 512.20,1116.30 C513.97,1121.59 515.73,1124.45 517.50,1128.20 C519.70,1132.86 521.90,1137.60 524.10,1141.40 C526.73,1145.94 529.37,1150.36 532.00,1153.30 C535.53,1157.24 539.07,1159.20 542.60,1162.50 C546.10,1165.77 549.60,1169.24 553.10,1173.10 C557.07,1177.47 561.03,1184.58 565.00,1187.60 C569.83,1191.29 574.67,1193.61 579.50,1195.50 C584.80,1197.57 590.10,1199.74 595.40,1200.30 C602.43,1201.04 609.47,1201.36 616.50,1201.60 C623.53,1201.84 630.57,1201.87 637.60,1202.10 C656.17,1202.71 674.73,1204.37 693.30,1205.80 C719.23,1207.80 745.17,1212.92 771.10,1213.10 C798.87,1213.29 826.63,1213.30 854.40,1213.40" fill="none" stroke="#000" stroke-width="1.8" stroke-linejoin="round" stroke-linecap="round"/>
<path d="M108.60,766.70 C139.07,767.20 169.53,767.83 200.00,768.20 C246.37,768.76 292.73,768.53 339.10,769.50 C345.50,769.63 351.90,770.29 358.30,771.00 C364.00,771.63 369.70,773.08 375.40,774.20 C383.97,775.89 392.53,776.75 401.10,779.60 C404.67,780.79 408.23,783.75 411.80,786.00 C416.07,788.70 420.33,790.68 424.60,794.60 C427.47,797.24 430.33,801.64 433.20,806.30 C435.70,810.37 438.20,815.04 440.70,821.30 C442.47,825.72 444.23,830.92 446.00,838.40 C447.43,844.47 448.87,853.39 450.30,864.10 C451.37,872.07 452.43,880.71 453.50,895.00 C454.13,903.48 454.77,924.33 455.40,932.80 C456.30,944.84 457.20,952.03 458.10,959.20 C459.87,973.27 461.63,984.17 463.40,993.50 C465.60,1005.12 467.80,1014.16 470.00,1022.60 C472.20,1031.04 474.40,1039.71 476.60,1045.00 C479.23,1051.33 481.87,1055.25 484.50,1059.50 C487.57,1064.45 490.63,1070.20 493.70,1072.70 C497.67,1075.93 501.63,1077.74 505.60,1079.30 C510.00,1081.03 514.40,1081.91 518.80,1083.30 C524.10,1084.98 529.40,1087.63 534.70,1088.60 C541.73,1089.89 548.77,1090.73 555.80,1091.20 C565.47,1091.85 575.13,1092.50 584.80,1092.50 C593.60,1092.50 602.40,1092.50 611.20,1092.50 C615.60,1092.50 620.00,1094.40 624.40,1094.40 C630.77,1094.40 637.13,1094.30 643.50,1094.30 C654.23,1094.30 664.97,1096.93 675.70,1097.90 C688.93,1099.10 702.17,1100.90 715.40,1100.90 C761.73,1100.90 808.07,1100.90 854.40,1100.90" fill="none" stroke="#ff0000" stroke-width="1.8" stroke-linejoin="round" stroke-linecap="round"/>
<path d="M991.60,797.60 C1014.40,797.70 1037.20,797.90 1060.00,797.90 C1079.73,797.90 1099.47,797.70 1119.20,797.60" fill="none" stroke="#ff0000" stroke-width="1.8" stroke-linejoin="round" stroke-linecap="round"/>
<path d="M1119.20,796.70 C1148.03,796.77 1176.87,796.71 1205.70,796.90 C1206.60,796.91 1207.50,797.90 1208.40,797.90 C1215.13,797.90 1221.87,797.90 1228.60,797.90 C1229.53,797.90 1230.47,799.30 1231.40,799.30 C1234.53,799.30 1237.67,799.30 1240.80,799.30 C1241.93,799.30 1243.07,800.40 1244.20,800.40 C1246.67,800.40 1249.13,800.40 1251.60,800.40 C1252.73,800.40 1253.87,801.89 1255.00,802.00 C1259.27,802.43 1263.53,802.26 1267.80,802.60 C1272.33,802.96 1276.87,805.08 1281.40,806.40 C1284.27,807.23 1287.13,807.97 1290.00,809.00 C1292.70,809.97 1295.40,810.88 1298.10,812.60 C1299.70,813.62 1301.30,816.10 1302.90,817.40 C1305.33,819.38 1307.77,820.22 1310.20,822.30 C1312.07,823.90 1313.93,826.00 1315.80,828.70 C1317.70,831.45 1319.60,834.55 1321.50,840.00 C1322.57,843.06 1323.63,848.36 1324.70,854.60 C1325.23,857.72 1325.77,863.00 1326.30,866.70 C1327.27,873.41 1328.23,876.98 1329.20,885.00 C1329.77,889.70 1330.33,893.86 1330.90,904.20 C1331.30,911.50 1331.70,940.32 1332.10,952.70 C1332.77,973.34 1333.43,980.41 1334.10,1001.20 C1334.67,1018.87 1335.23,1050.39 1335.80,1073.90 C1336.20,1090.50 1336.60,1098.21 1337.00,1122.40 C1337.17,1132.48 1337.33,1142.89 1337.50,1170.90 C1337.53,1176.50 1337.57,1202.40 1337.60,1202.40 C1338.03,1202.40 1338.47,1195.03 1338.90,1187.90 C1339.23,1182.42 1339.57,1172.80 1339.90,1158.80 C1340.13,1149.00 1340.37,1128.26 1340.60,1110.30 C1340.83,1092.34 1341.07,1060.47 1341.30,1049.70 C1341.87,1023.55 1342.43,1020.34 1343.00,1001.20 C1343.40,987.69 1343.80,962.95 1344.20,952.70 C1344.63,941.60 1345.07,933.13 1345.50,928.50 C1346.70,915.67 1347.90,910.82 1349.10,904.20 C1349.67,901.07 1350.23,897.89 1350.80,896.00 C1352.07,891.76 1353.33,891.14 1354.60,886.90 C1355.40,884.22 1356.20,878.75 1357.00,874.70 C1357.80,870.65 1358.60,865.86 1359.40,862.60 C1361.03,855.94 1362.67,851.45 1364.30,846.50 C1365.63,842.46 1366.97,838.76 1368.30,835.20 C1369.90,830.93 1371.50,825.48 1373.10,823.10 C1375.80,819.09 1378.50,817.21 1381.20,815.00 C1384.70,812.13 1388.20,809.36 1391.70,807.80 C1395.47,806.12 1399.23,804.71 1403.00,804.10 C1405.33,803.72 1407.67,803.61 1410.00,803.30 C1418.17,802.22 1426.33,799.75 1434.50,799.10 C1442.13,798.49 1449.77,797.95 1457.40,797.90 C1523.77,797.48 1590.13,797.57 1656.50,797.40" fill="none" stroke="#ff0000" stroke-width="1.8" stroke-linejoin="round" stroke-linecap="round"/>
<path d="M991.60,794.20 C993.60,795.30 995.60,797.47 997.60,797.50 C1018.40,797.86 1039.20,797.84 1060.00,797.90 C1078.90,797.95 1097.80,797.94 1116.70,798.00 C1137.80,798.07 1158.90,798.90 1180.00,798.90 C1181.80,798.90 1183.60,798.79 1185.40,798.60 C1186.07,798.53 1186.73,797.90 1187.40,797.90 C1188.10,797.90 1188.80,799.30 1189.50,799.30 C1191.73,799.30 1193.97,799.30 1196.20,799.30 C1197.77,799.30 1199.33,801.20 1200.90,801.60 C1203.83,802.34 1206.77,803.00 1209.70,803.00 C1211.50,803.00 1213.30,802.64 1215.10,802.30 C1216.00,802.13 1216.90,801.50 1217.80,801.50 C1219.40,801.50 1221.00,801.82 1222.60,802.60 C1223.27,802.92 1223.93,806.67 1224.60,809.10 C1225.50,812.38 1226.40,820.03 1227.30,820.50 C1227.73,820.73 1228.17,820.90 1228.60,820.90 C1229.53,820.90 1230.47,819.57 1231.40,818.90 C1232.97,817.77 1234.53,815.50 1236.10,815.50 C1237.90,815.50 1239.70,815.70 1241.50,815.70 C1243.30,815.70 1245.10,812.37 1246.90,810.70 C1248.93,808.81 1250.97,806.61 1253.00,805.00 C1254.13,804.10 1255.27,803.06 1256.40,802.60 C1257.97,801.96 1259.53,801.77 1261.10,801.30 C1263.13,800.69 1265.17,799.82 1267.20,799.30 C1269.43,798.73 1271.67,797.90 1273.90,797.90 C1275.03,797.90 1276.17,798.76 1277.30,798.90 C1279.10,799.12 1280.90,799.06 1282.70,799.30 C1284.27,799.51 1285.83,802.24 1287.40,802.30 C1291.50,802.45 1295.60,802.37 1299.70,802.50 C1303.73,802.62 1307.77,805.28 1311.80,806.10 C1314.50,806.65 1317.20,806.75 1319.90,807.40 C1321.50,807.79 1323.10,808.57 1324.70,809.40 C1326.60,810.39 1328.50,811.72 1330.40,813.40 C1331.47,814.34 1332.53,816.14 1333.60,817.00 C1335.20,818.28 1336.80,818.61 1338.40,819.90 C1339.77,821.00 1341.13,822.94 1342.50,824.70 C1344.90,827.79 1347.30,831.13 1349.70,835.20 C1351.33,837.97 1352.97,841.28 1354.60,844.90 C1356.20,848.45 1357.80,852.96 1359.40,857.00 C1360.47,859.69 1361.53,862.46 1362.60,865.10 C1364.10,868.82 1365.60,869.44 1367.10,876.00 C1367.33,877.02 1367.57,879.75 1367.80,882.00 C1368.43,888.12 1369.07,889.98 1369.70,904.20 C1369.93,909.44 1370.17,930.35 1370.40,952.70 C1370.57,968.66 1370.73,999.39 1370.90,1025.50 C1371.07,1051.61 1371.23,1101.66 1371.40,1110.30 C1372.03,1143.11 1372.67,1146.44 1373.30,1158.80 C1373.97,1171.81 1374.63,1184.66 1375.30,1190.30 C1375.70,1193.69 1376.10,1197.60 1376.50,1197.60 C1377.07,1197.60 1377.63,1192.57 1378.20,1187.90 C1378.83,1182.68 1379.47,1168.19 1380.10,1158.80 C1381.23,1142.00 1382.37,1135.77 1383.50,1110.30 C1384.00,1099.06 1384.50,1068.66 1385.00,1049.70 C1385.57,1028.21 1386.13,1006.02 1386.70,989.10 C1387.50,965.22 1388.30,935.93 1389.10,928.50 C1390.30,917.36 1391.50,915.34 1392.70,909.10 C1393.63,904.25 1394.57,899.44 1395.50,895.00 C1396.40,890.71 1397.30,885.74 1398.20,882.80 C1399.27,879.31 1400.33,878.29 1401.40,874.70 C1402.47,871.11 1403.53,864.78 1404.60,858.60 C1405.40,853.97 1406.20,845.41 1407.00,842.50 C1408.17,838.25 1409.33,835.37 1410.50,834.10 C1414.67,829.55 1418.83,829.16 1423.00,826.50 C1426.83,824.06 1430.67,820.68 1434.50,818.80 C1438.30,816.94 1442.10,816.10 1445.90,814.40 C1449.73,812.69 1453.57,810.28 1457.40,808.30 C1462.50,805.66 1467.60,801.71 1472.70,800.60 C1477.17,799.62 1481.63,798.73 1486.10,798.70 C1542.90,798.34 1599.70,798.54 1656.50,798.30 C1682.67,798.19 1708.83,797.70 1735.00,797.40" fill="none" stroke="#000" stroke-width="1.8" stroke-linejoin="round" stroke-linecap="round"/>
<rect x="65.8" y="25.3" width="788.7" height="560.5" fill="none" stroke="#000" stroke-width="2"/>
<rect x="991.8" y="25.4" width="744.1" height="560.1" fill="none" stroke="#000" stroke-width="2"/>
<rect x="108.6" y="718.7" width="745.8" height="549.5" fill="none" stroke="#000" stroke-width="2"/>
<rect x="991.6" y="718.7" width="744.4" height="549.5" fill="none" stroke="#000" stroke-width="2"/>
<line x1="65.8" y1="585.8" x2="65.8" y2="597.8" stroke="#000" stroke-width="2"/>
<line x1="144.7" y1="585.8" x2="144.7" y2="592.3" stroke="#000" stroke-width="2"/>
<line x1="223.5" y1="585.8" x2="223.5" y2="597.8" stroke="#000" stroke-width="2"/>
<line x1="302.4" y1="585.8" x2="302.4" y2="592.3" stroke="#000" stroke-width="2"/>
<line x1="381.3" y1="585.8" x2="381.3" y2="597.8" stroke="#000" stroke-width="2"/>
<line x1="460.2" y1="585.8" x2="460.2" y2="592.3" stroke="#000" stroke-width="2"/>
<line x1="539.0" y1="585.8" x2="539.0" y2="597.8" stroke="#000" stroke-width="2"/>
<line x1="617.9" y1="585.8" x2="617.9" y2="592.3" stroke="#000" stroke-width="2"/>
<line x1="696.8" y1="585.8" x2="696.8" y2="597.8" stroke="#000" stroke-width="2"/>
<line x1="775.6" y1="585.8" x2="775.6" y2="592.3" stroke="#000" stroke-width="2"/>
<line x1="854.5" y1="585.8" x2="854.5" y2="597.8" stroke="#000" stroke-width="2"/>
<text x="65.80" y="625.30" font-size="24.50" text-anchor="middle" font-family="Liberation Serif, Times New Roman, serif" font-weight="bold" >0</text>
<text x="223.54" y="625.30" font-size="24.50" text-anchor="middle" font-family="Liberation Serif, Times New Roman, serif" font-weight="bold" >2</text>
<text x="381.28" y="625.30" font-size="24.50" text-anchor="middle" font-family="Liberation Serif, Times New Roman, serif" font-weight="bold" >4</text>
<text x="539.02" y="625.30" font-size="24.50" text-anchor="middle" font-family="Liberation Serif, Times New Roman, serif" font-weight="bold" >6</text>
<text x="696.76" y="625.30" font-size="24.50" text-anchor="middle" font-family="Liberation Serif, Times New Roman, serif" font-weight="bold" >8</text>
<text x="854.50" y="625.30" font-size="24.50" text-anchor="middle" font-family="Liberation Serif, Times New Roman, serif" font-weight="bold" >10</text>
<line x1="991.9" y1="585.5" x2="991.9" y2="597.0" stroke="#000" stroke-width="2"/>
<line x1="1043.6" y1="585.5" x2="1043.6" y2="592.0" stroke="#000" stroke-width="2"/>
<line x1="1095.3" y1="585.5" x2="1095.3" y2="597.0" stroke="#000" stroke-width="2"/>
<line x1="1147.0" y1="585.5" x2="1147.0" y2="592.0" stroke="#000" stroke-width="2"/>
<line x1="1198.7" y1="585.5" x2="1198.7" y2="597.0" stroke="#000" stroke-width="2"/>
<line x1="1250.4" y1="585.5" x2="1250.4" y2="592.0" stroke="#000" stroke-width="2"/>
<line x1="1302.1" y1="585.5" x2="1302.1" y2="597.0" stroke="#000" stroke-width="2"/>
<line x1="1353.8" y1="585.5" x2="1353.8" y2="592.0" stroke="#000" stroke-width="2"/>
<line x1="1405.5" y1="585.5" x2="1405.5" y2="597.0" stroke="#000" stroke-width="2"/>
<line x1="1457.2" y1="585.5" x2="1457.2" y2="592.0" stroke="#000" stroke-width="2"/>
<line x1="1508.9" y1="585.5" x2="1508.9" y2="597.0" stroke="#000" stroke-width="2"/>
<line x1="1560.6" y1="585.5" x2="1560.6" y2="592.0" stroke="#000" stroke-width="2"/>
<line x1="1612.3" y1="585.5" x2="1612.3" y2="597.0" stroke="#000" stroke-width="2"/>
<line x1="1664.0" y1="585.5" x2="1664.0" y2="592.0" stroke="#000" stroke-width="2"/>
<line x1="1715.7" y1="585.5" x2="1715.7" y2="597.0" stroke="#000" stroke-width="2"/>
<text x="991.90" y="622.50" font-size="24.30" text-anchor="middle" font-family="Liberation Serif, Times New Roman, serif" font-weight="bold" >4000</text>
<text x="1095.30" y="622.50" font-size="24.30" text-anchor="middle" font-family="Liberation Serif, Times New Roman, serif" font-weight="bold" >3500</text>
<text x="1198.70" y="622.50" font-size="24.30" text-anchor="middle" font-family="Liberation Serif, Times New Roman, serif" font-weight="bold" >3000</text>
<text x="1302.10" y="622.50" font-size="24.30" text-anchor="middle" font-family="Liberation Serif, Times New Roman, serif" font-weight="bold" >2500</text>
<text x="1405.50" y="622.50" font-size="24.30" text-anchor="middle" font-family="Liberation Serif, Times New Roman, serif" font-weight="bold" >2000</text>
<text x="1508.90" y="622.50" font-size="24.30" text-anchor="middle" font-family="Liberation Serif, Times New Roman, serif" font-weight="bold" >1500</text>
<text x="1612.30" y="622.50" font-size="24.30" text-anchor="middle" font-family="Liberation Serif, Times New Roman, serif" font-weight="bold" >1000</text>
<text x="1715.70" y="622.50" font-size="24.30" text-anchor="middle" font-family="Liberation Serif, Times New Roman, serif" font-weight="bold" >500</text>
<line x1="108.6" y1="1268.2" x2="108.6" y2="1274.7" stroke="#000" stroke-width="2"/>
<line x1="176.4" y1="1268.2" x2="176.4" y2="1279.7" stroke="#000" stroke-width="2"/>
<line x1="244.2" y1="1268.2" x2="244.2" y2="1274.7" stroke="#000" stroke-width="2"/>
<line x1="312.0" y1="1268.2" x2="312.0" y2="1279.7" stroke="#000" stroke-width="2"/>
<line x1="379.8" y1="1268.2" x2="379.8" y2="1274.7" stroke="#000" stroke-width="2"/>
<line x1="447.6" y1="1268.2" x2="447.6" y2="1279.7" stroke="#000" stroke-width="2"/>
<line x1="515.4" y1="1268.2" x2="515.4" y2="1274.7" stroke="#000" stroke-width="2"/>
<line x1="583.2" y1="1268.2" x2="583.2" y2="1279.7" stroke="#000" stroke-width="2"/>
<line x1="651.0" y1="1268.2" x2="651.0" y2="1274.7" stroke="#000" stroke-width="2"/>
<line x1="718.8" y1="1268.2" x2="718.8" y2="1279.7" stroke="#000" stroke-width="2"/>
<line x1="786.6" y1="1268.2" x2="786.6" y2="1274.7" stroke="#000" stroke-width="2"/>
<line x1="854.4" y1="1268.2" x2="854.4" y2="1279.7" stroke="#000" stroke-width="2"/>
<text x="176.40" y="1305.30" font-size="24.30" text-anchor="middle" font-family="Liberation Serif, Times New Roman, serif" font-weight="bold" >100</text>
<text x="312.00" y="1305.30" font-size="24.30" text-anchor="middle" font-family="Liberation Serif, Times New Roman, serif" font-weight="bold" >200</text>
<text x="447.60" y="1305.30" font-size="24.30" text-anchor="middle" font-family="Liberation Serif, Times New Roman, serif" font-weight="bold" >300</text>
<text x="583.20" y="1305.30" font-size="24.30" text-anchor="middle" font-family="Liberation Serif, Times New Roman, serif" font-weight="bold" >400</text>
<text x="718.80" y="1305.30" font-size="24.30" text-anchor="middle" font-family="Liberation Serif, Times New Roman, serif" font-weight="bold" >500</text>
<text x="854.40" y="1305.30" font-size="24.30" text-anchor="middle" font-family="Liberation Serif, Times New Roman, serif" font-weight="bold" >600</text>
<line x1="108.6" y1="1268.2" x2="96.6" y2="1268.2" stroke="#000" stroke-width="2"/>
<line x1="108.6" y1="1218.2" x2="102.1" y2="1218.2" stroke="#000" stroke-width="2"/>
<line x1="108.6" y1="1168.3" x2="96.6" y2="1168.3" stroke="#000" stroke-width="2"/>
<line x1="108.6" y1="1118.3" x2="102.1" y2="1118.3" stroke="#000" stroke-width="2"/>
<line x1="108.6" y1="1068.4" x2="96.6" y2="1068.4" stroke="#000" stroke-width="2"/>
<line x1="108.6" y1="1018.4" x2="102.1" y2="1018.4" stroke="#000" stroke-width="2"/>
<line x1="108.6" y1="968.5" x2="96.6" y2="968.5" stroke="#000" stroke-width="2"/>
<line x1="108.6" y1="918.5" x2="102.1" y2="918.5" stroke="#000" stroke-width="2"/>
<line x1="108.6" y1="868.6" x2="96.6" y2="868.6" stroke="#000" stroke-width="2"/>
<line x1="108.6" y1="818.6" x2="102.1" y2="818.6" stroke="#000" stroke-width="2"/>
<line x1="108.6" y1="768.7" x2="96.6" y2="768.7" stroke="#000" stroke-width="2"/>
<line x1="108.6" y1="718.7" x2="102.1" y2="718.7" stroke="#000" stroke-width="2"/>
<text x="89.50" y="1276.40" font-size="24.30" text-anchor="end" font-family="Liberation Serif, Times New Roman, serif" font-weight="bold" >0</text>
<text x="89.50" y="1176.49" font-size="24.30" text-anchor="end" font-family="Liberation Serif, Times New Roman, serif" font-weight="bold" >20</text>
<text x="89.50" y="1076.58" font-size="24.30" text-anchor="end" font-family="Liberation Serif, Times New Roman, serif" font-weight="bold" >40</text>
<text x="89.50" y="976.67" font-size="24.30" text-anchor="end" font-family="Liberation Serif, Times New Roman, serif" font-weight="bold" >60</text>
<text x="89.50" y="876.76" font-size="24.30" text-anchor="end" font-family="Liberation Serif, Times New Roman, serif" font-weight="bold" >80</text>
<text x="89.50" y="776.85" font-size="24.30" text-anchor="end" font-family="Liberation Serif, Times New Roman, serif" font-weight="bold" >100</text>
<line x1="991.6" y1="1268.2" x2="991.6" y2="1274.7" stroke="#000" stroke-width="2"/>
<line x1="1059.3" y1="1268.2" x2="1059.3" y2="1279.7" stroke="#000" stroke-width="2"/>
<line x1="1126.9" y1="1268.2" x2="1126.9" y2="1274.7" stroke="#000" stroke-width="2"/>
<line x1="1194.6" y1="1268.2" x2="1194.6" y2="1279.7" stroke="#000" stroke-width="2"/>
<line x1="1262.3" y1="1268.2" x2="1262.3" y2="1274.7" stroke="#000" stroke-width="2"/>
<line x1="1330.0" y1="1268.2" x2="1330.0" y2="1279.7" stroke="#000" stroke-width="2"/>
<line x1="1397.6" y1="1268.2" x2="1397.6" y2="1274.7" stroke="#000" stroke-width="2"/>
<line x1="1465.3" y1="1268.2" x2="1465.3" y2="1279.7" stroke="#000" stroke-width="2"/>
<line x1="1533.0" y1="1268.2" x2="1533.0" y2="1274.7" stroke="#000" stroke-width="2"/>
<line x1="1600.7" y1="1268.2" x2="1600.7" y2="1279.7" stroke="#000" stroke-width="2"/>
<line x1="1668.3" y1="1268.2" x2="1668.3" y2="1274.7" stroke="#000" stroke-width="2"/>
<line x1="1736.0" y1="1268.2" x2="1736.0" y2="1279.7" stroke="#000" stroke-width="2"/>
<text x="1059.27" y="1305.80" font-size="24.30" text-anchor="middle" font-family="Liberation Serif, Times New Roman, serif" font-weight="bold" >100</text>
<text x="1194.62" y="1305.80" font-size="24.30" text-anchor="middle" font-family="Liberation Serif, Times New Roman, serif" font-weight="bold" >200</text>
<text x="1329.96" y="1305.80" font-size="24.30" text-anchor="middle" font-family="Liberation Serif, Times New Roman, serif" font-weight="bold" >300</text>
<text x="1465.31" y="1305.80" font-size="24.30" text-anchor="middle" font-family="Liberation Serif, Times New Roman, serif" font-weight="bold" >400</text>
<text x="1600.65" y="1305.80" font-size="24.30" text-anchor="middle" font-family="Liberation Serif, Times New Roman, serif" font-weight="bold" >500</text>
<text x="1736.00" y="1305.80" font-size="24.30" text-anchor="middle" font-family="Liberation Serif, Times New Roman, serif" font-weight="bold" >600</text>
<line x1="991.6" y1="1268.2" x2="979.6" y2="1268.2" stroke="#000" stroke-width="2"/>
<line x1="991.6" y1="1189.7" x2="985.1" y2="1189.7" stroke="#000" stroke-width="2"/>
<line x1="991.6" y1="1111.2" x2="979.6" y2="1111.2" stroke="#000" stroke-width="2"/>
<line x1="991.6" y1="1032.7" x2="985.1" y2="1032.7" stroke="#000" stroke-width="2"/>
<line x1="991.6" y1="954.2" x2="979.6" y2="954.2" stroke="#000" stroke-width="2"/>
<line x1="991.6" y1="875.7" x2="985.1" y2="875.7" stroke="#000" stroke-width="2"/>
<line x1="991.6" y1="797.2" x2="979.6" y2="797.2" stroke="#000" stroke-width="2"/>
<line x1="991.6" y1="718.7" x2="985.1" y2="718.7" stroke="#000" stroke-width="2"/>
<text x="972.50" y="1276.40" font-size="24.30" text-anchor="end" font-family="Liberation Serif, Times New Roman, serif" font-weight="bold" >-6</text>
<text x="972.50" y="1119.40" font-size="24.30" text-anchor="end" font-family="Liberation Serif, Times New Roman, serif" font-weight="bold" >-4</text>
<text x="972.50" y="962.40" font-size="24.30" text-anchor="end" font-family="Liberation Serif, Times New Roman, serif" font-weight="bold" >-2</text>
<text x="972.50" y="805.40" font-size="24.30" text-anchor="end" font-family="Liberation Serif, Times New Roman, serif" font-weight="bold" >0</text>
<text transform="translate(86.30,187.53) scale(0.983,1)" font-size="26.87" font-family="Liberation Serif, Times New Roman, serif" font-weight="bold">DESG</text>
<text transform="translate(84.60,370.36) scale(0.959,1)" font-size="27.97" font-family="Liberation Serif, Times New Roman, serif" font-weight="bold">DEA</text>
<text transform="translate(82.90,551.41) scale(0.954,1)" font-size="28.51" font-family="Liberation Serif, Times New Roman, serif" font-weight="bold">SG</text>
<text transform="translate(198.90,148.06) scale(0.887,1)" font-size="22.37" font-family="Liberation Serif, Times New Roman, serif" font-weight="bold">2.1</text>
<text transform="translate(334.00,172.88) scale(1.027,1)" font-size="21.04" font-family="Liberation Serif, Times New Roman, serif" font-weight="bold">3.6</text>
<text transform="translate(387.60,101.30) scale(1.006,1)" font-size="20.00" font-family="Liberation Serif, Times New Roman, serif" font-weight="bold">3.9~5.2</text>
<text transform="translate(644.30,164.66) scale(0.910,1)" font-size="24.44" font-family="Liberation Serif, Times New Roman, serif" font-weight="bold">7~8</text>
<text transform="translate(199.40,267.06) scale(0.902,1)" font-size="22.52" font-family="Liberation Serif, Times New Roman, serif" font-weight="bold">2.1</text>
<text transform="translate(337.10,357.46) scale(0.991,1)" font-size="22.52" font-family="Liberation Serif, Times New Roman, serif" font-weight="bold">3.6</text>
<text transform="translate(642.50,329.76) scale(0.949,1)" font-size="23.85" font-family="Liberation Serif, Times New Roman, serif" font-weight="bold">7~8</text>
<text transform="translate(231.50,484.20) scale(0.973,1)" font-size="20.15" font-family="Liberation Serif, Times New Roman, serif" font-weight="bold">2.5</text>
<text transform="translate(447.70,471.71) scale(1.017,1)" font-size="19.56" font-family="Liberation Serif, Times New Roman, serif" font-weight="bold">3.9~5.2</text>
<text transform="translate(791.20,77.19) scale(0.849,1)" font-size="41.27" font-family="Liberation Sans, Arial, sans-serif" font-weight="bold">a</text>
<text transform="translate(1005.00,96.84) scale(0.981,1)" font-size="25.97" font-family="Liberation Serif, Times New Roman, serif" font-weight="bold">DESG</text>
<text transform="translate(1006.10,230.27) scale(0.972,1)" font-size="26.47" font-family="Liberation Serif, Times New Roman, serif" font-weight="bold">DEA</text>
<text transform="translate(1007.60,378.04) scale(0.949,1)" font-size="26.12" font-family="Liberation Serif, Times New Roman, serif" font-weight="bold">SG</text>
<text transform="translate(1672.20,81.19) scale(0.829,1)" font-size="40.95" font-family="Liberation Sans, Arial, sans-serif" font-weight="bold">b</text>
<text transform="translate(1466.50,81.82) scale(1.010,1)" font-size="18.37" font-family="Liberation Serif, Times New Roman, serif" font-weight="bold">1478</text>
<text transform="translate(1472.70,188.20) scale(0.908,1)" font-size="20.15" font-family="Liberation Serif, Times New Roman, serif" font-weight="bold">1596</text>
<text transform="translate(1538.00,153.30) scale(0.893,1)" font-size="20.15" font-family="Liberation Serif, Times New Roman, serif" font-weight="bold">1232</text>
<text transform="translate(1561.60,197.20) scale(0.847,1)" font-size="20.15" font-family="Liberation Serif, Times New Roman, serif" font-weight="bold">1159</text>
<text transform="translate(1626.40,152.68) scale(0.808,1)" font-size="21.79" font-family="Liberation Serif, Times New Roman, serif" font-weight="bold">912</text>
<text transform="translate(1672.20,160.20) scale(0.982,1)" font-size="20.30" font-family="Liberation Serif, Times New Roman, serif" font-weight="bold">758</text>
<text transform="translate(1401.00,317.01) scale(0.950,1)" font-size="19.26" font-family="Liberation Serif, Times New Roman, serif" font-weight="bold">1628</text>
<text transform="translate(1471.00,323.21) scale(0.959,1)" font-size="19.40" font-family="Liberation Serif, Times New Roman, serif" font-weight="bold">1596</text>
<text transform="translate(1502.30,368.69) scale(0.852,1)" font-size="21.19" font-family="Liberation Serif, Times New Roman, serif" font-weight="bold">1232</text>
<text transform="translate(1615.40,358.51) scale(0.873,1)" font-size="19.40" font-family="Liberation Serif, Times New Roman, serif" font-weight="bold">912</text>
<text transform="translate(1649.40,361.00) scale(0.966,1)" font-size="20.15" font-family="Liberation Serif, Times New Roman, serif" font-weight="bold">758</text>
<text transform="translate(1154.80,567.51) scale(1.021,1)" font-size="19.40" font-family="Liberation Serif, Times New Roman, serif" font-weight="bold">3426</text>
<text transform="translate(1196.20,510.30) scale(0.963,1)" font-size="20.15" font-family="Liberation Serif, Times New Roman, serif" font-weight="bold">2935</text>
<text transform="translate(1461.30,482.81) scale(0.983,1)" font-size="18.66" font-family="Liberation Serif, Times New Roman, serif" font-weight="bold">1636</text>
<text transform="translate(767.40,1090.33) scale(0.952,1)" font-size="26.87" font-family="Liberation Serif, Times New Roman, serif" font-weight="bold">DESG</text>
<text transform="translate(788.00,1203.33) scale(0.878,1)" font-size="27.46" font-family="Liberation Serif, Times New Roman, serif" font-weight="bold">SG</text>
<text transform="translate(788.90,773.70) scale(0.941,1)" font-size="39.64" font-family="Liberation Sans, Arial, sans-serif" font-weight="bold">c</text>
<text x="1220.30" y="1037.85" font-size="25.07" text-anchor="start" font-family="Liberation Serif, Times New Roman, serif" font-weight="bold" >DESG</text>
<text transform="translate(1441.60,1037.85) scale(0.983,1)" font-size="25.07" font-family="Liberation Serif, Times New Roman, serif" font-weight="bold">SG</text>
<text transform="translate(1672.30,771.40) scale(0.861,1)" font-size="39.59" font-family="Liberation Sans, Arial, sans-serif" font-weight="bold">d</text>
<text x="411.00" y="669.50" font-size="28.00" text-anchor="start" font-family="Liberation Serif, Times New Roman, serif" font-weight="bold" >δ</text>
<text x="436.50" y="669.50" font-size="27.00" text-anchor="start" font-family="Liberation Serif, Times New Roman, serif" font-weight="bold" >(ppm)</text>
<text x="1247" y="672.3" font-size="27" font-family="Liberation Serif, Times New Roman, serif" font-weight="bold" textLength="211" lengthAdjust="spacingAndGlyphs">Wavenumbers (cm</text>
<text x="1458.50" y="657.20" font-size="15.00" text-anchor="start" font-family="Liberation Serif, Times New Roman, serif" font-weight="bold" >-1</text>
<text x="1469.00" y="672.30" font-size="27.00" text-anchor="start" font-family="Liberation Serif, Times New Roman, serif" font-weight="bold" >)</text>
<text x="366" y="1339.9" font-size="26" font-family="Liberation Serif, Times New Roman, serif" font-weight="bold" textLength="163.0" lengthAdjust="spacingAndGlyphs">Temperature (</text>
<text transform="translate(528.6,1325.6) scale(1.45,1)" font-size="18" font-family="Liberation Serif, Times New Roman, serif" font-weight="bold">0</text>
<text x="542.00" y="1339.90" font-size="26.00" text-anchor="start" font-family="Liberation Serif, Times New Roman, serif" font-weight="bold" >C)</text>
<text x="1228" y="1342.3" font-size="26" font-family="Liberation Serif, Times New Roman, serif" font-weight="bold" textLength="162.0" lengthAdjust="spacingAndGlyphs">Temperature (</text>
<text transform="translate(1391.6,1328.1) scale(1.25,1)" font-size="14.5" font-family="Liberation Serif, Times New Roman, serif" font-weight="bold">0</text>
<text x="1401.20" y="1342.30" font-size="26.00" text-anchor="start" font-family="Liberation Serif, Times New Roman, serif" font-weight="bold" >C)</text>
<text transform="translate(40.5,1061) rotate(-90)" font-size="27" font-family="Liberation Serif, Times New Roman, serif" font-weight="bold" textLength="135" lengthAdjust="spacingAndGlyphs">Weight (%)</text>
<g transform="translate(928,1125) rotate(-90)"><text x="0" y="0" font-size="27.3" font-family="Liberation Serif, Times New Roman, serif" font-weight="bold">Deriv. Weight (%/<tspan font-size="16" dy="-14">o</tspan><tspan dy="14">C)</tspan></text></g>
<line x1="1486.2" y1="85.3" x2="1503.0" y2="101.7" stroke="#000" stroke-width="1.2"/>
<polygon points="1508.7,107.3 1500.7,102.7 1503.9,99.4" fill="#000"/>
<line x1="1490.1" y1="168.7" x2="1490.1" y2="150.2" stroke="#000" stroke-width="1.2"/>
<polygon points="1490.1,142.2 1492.4,151.2 1487.8,151.2" fill="#000"/>
<line x1="1561.6" y1="136.6" x2="1562.8" y2="118.1" stroke="#000" stroke-width="1.2"/>
<polygon points="1563.3,110.1 1565.0,119.2 1560.4,118.9" fill="#000"/>
<line x1="1580.2" y1="179.4" x2="1580.2" y2="163.7" stroke="#000" stroke-width="1.2"/>
<polygon points="1580.2,155.7 1582.5,164.7 1577.9,164.7" fill="#000"/>
<line x1="1637.9" y1="136.1" x2="1634.0" y2="119.7" stroke="#000" stroke-width="1.2"/>
<polygon points="1632.1,111.9 1636.4,120.1 1632.0,121.2" fill="#000"/>
<line x1="1682.3" y1="142.7" x2="1667.8" y2="126.3" stroke="#000" stroke-width="1.2"/>
<polygon points="1662.5,120.3 1670.2,125.5 1666.7,128.6" fill="#000"/>
<line x1="1539.1" y1="362.4" x2="1552.6" y2="357.5" stroke="#000" stroke-width="1.2"/>
<polygon points="1560.1,354.7 1552.4,360.0 1550.9,355.6" fill="#000"/>
<line x1="1153.4" y1="561.9" x2="1126.4" y2="568.9" stroke="#000" stroke-width="1.2"/>
<polygon points="1118.7,570.9 1126.8,566.4 1128.0,570.9" fill="#000"/>
<line x1="1292.1" y1="1020.4" x2="1318.0" y2="1005.7" stroke="#000" stroke-width="1.2"/>
<polygon points="1325.0,1001.8 1318.3,1008.2 1316.0,1004.2" fill="#000"/>
<line x1="1438.2" y1="1021.3" x2="1404.7" y2="1003.8" stroke="#000" stroke-width="1.2"/>
<polygon points="1397.6,1000.1 1406.6,1002.2 1404.5,1006.3" fill="#000"/>
</svg>
</body></html>
